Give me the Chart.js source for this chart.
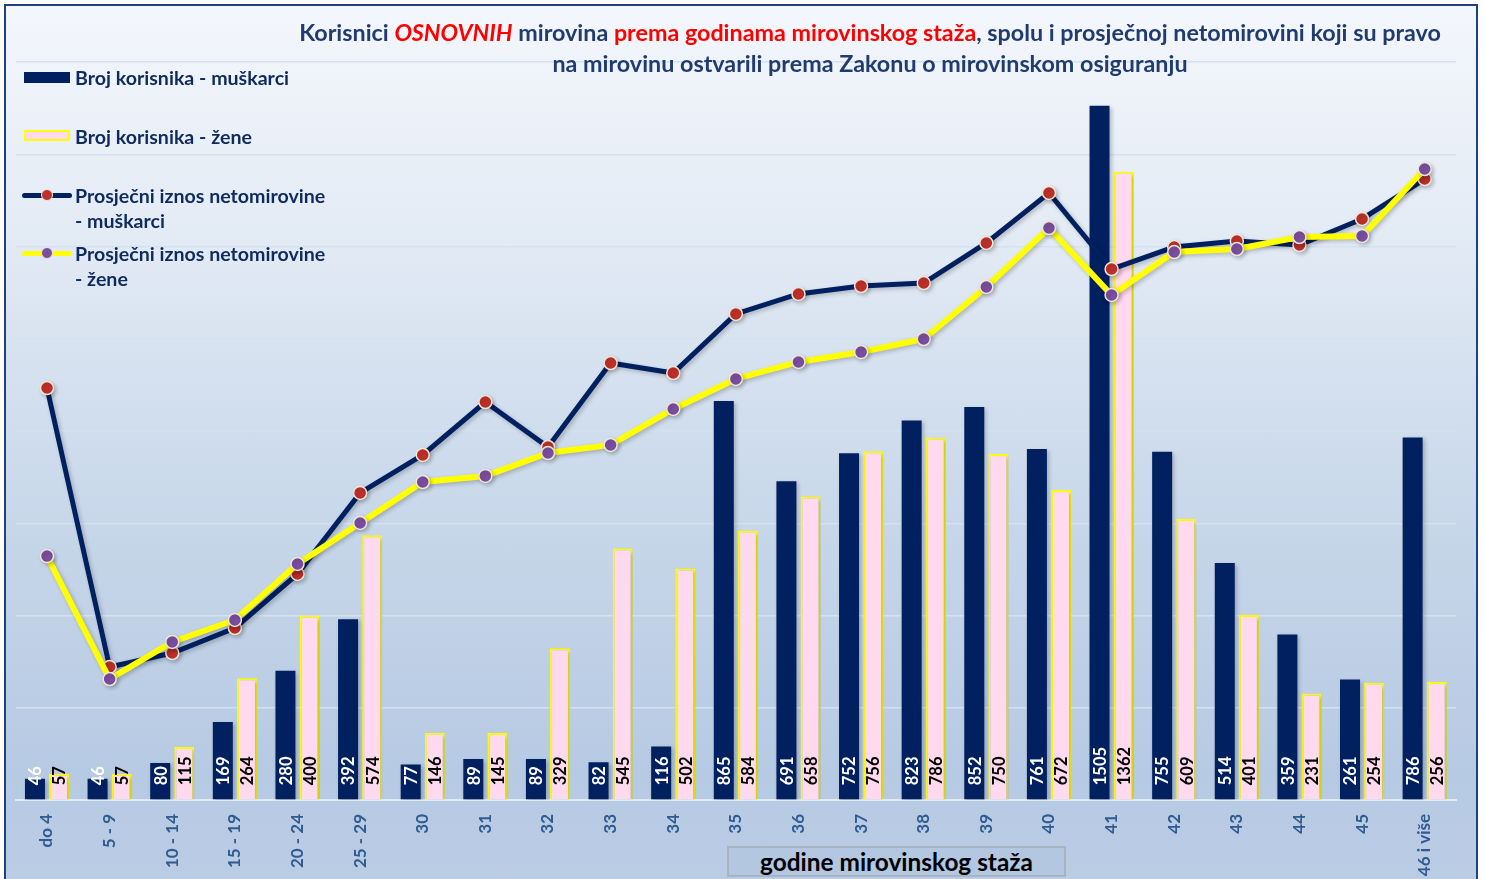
<!DOCTYPE html>
<html lang="hr">
<head>
<meta charset="utf-8">
<title>Korisnici osnovnih mirovina prema godinama mirovinskog staža</title>
<script src="https://cdn.jsdelivr.net/npm/chart.js@4/dist/chart.umd.min.js"></script>
<style>
  html, body { margin: 0; padding: 0; background: #fff; }
  body { width: 1485px; height: 879px; overflow: hidden; position: relative; font-family: Lato, 'Open Sans', sans-serif; }
  #frame {
    position: absolute; left: 4px; top: 4px; width: 1470px; height: 900px;
    border: 2px solid #1f3f86;
    background: linear-gradient(to bottom, #f4f7fc 0%, #e3ebf5 25%, #c9d8ea 55%, #b6cae3 85%, #bccde5 100%);
  }
  #chart { position: absolute; left: 0; top: 0; }
  #title {
    position: absolute; left: 270px; top: 17px; width: 1200px;
    text-align: center; font-weight: bold; font-size: 23.3px; line-height: 31px; color: #1f3b70;
  }
  #title .red { color: #ff0000; }
  #title .it { font-style: italic; }
  .lg-text { position: absolute; left: 75px; font-weight: bold; font-size: 19.6px; line-height: 25px; color: #0e2a5e; white-space: nowrap; }
  .lg-box { position: absolute; left: 24px; width: 46px; height: 11px; box-sizing: border-box; }
  .lg-line { position: absolute; left: 22px; width: 50px; height: 5px; border-radius: 3px; }
  .lg-dot { position: absolute; left: 41px; width: 12px; height: 12px; border-radius: 50%; box-sizing: border-box; border: 1.5px solid #efe6d8; }
  #xtitle {
    position: absolute; left: 727px; top: 846px; width: 339px; height: 31px; box-sizing: border-box;
    background: #b3c7e0; border: 2px solid #a8b4c4;
    text-align: center; font-weight: bold; font-size: 24.4px; line-height: 27px; color: #000;
  }
</style>
</head>
<body>
<div id="frame"></div>
<canvas id="chart" width="1485" height="879"></canvas>

<div id="title">Korisnici <span class="red it">OSNOVNIH</span> mirovina <span class="red">prema godinama mirovinskog staža</span>, spolu i prosječnoj netomirovini koji su pravo<br>na mirovinu ostvarili prema Zakonu o mirovinskom osiguranju</div>

<div class="lg-box" style="top:72px; background:#002060;"></div>
<div class="lg-text" style="top:65px;">Broj korisnika - muškarci</div>

<div class="lg-box" style="top:130px; background:#ffd9ee; border:2px solid #ffff00;"></div>
<div class="lg-text" style="top:124px;">Broj korisnika - žene</div>

<div class="lg-line" style="top:193px; background:#002060;"></div>
<div class="lg-dot" style="top:189px; background:#c0302a;"></div>
<div class="lg-text" style="top:183px;">Prosječni iznos netomirovine<br>- muškarci</div>

<div class="lg-line" style="top:251px; background:#ffff00;"></div>
<div class="lg-dot" style="top:247px; background:#7b4fa0;"></div>
<div class="lg-text" style="top:241px;">Prosječni iznos netomirovine<br>- žene</div>

<div id="xtitle">godine mirovinskog staža</div>

<script>
// years of pensionable service
const categories = ['do 4', '5 - 9', '10 - 14', '15 - 19', '20 - 24', '25 - 29', '30', '31', '32', '33',
  '34', '35', '36', '37', '38', '39', '40', '41', '42', '43', '44', '45', '46 i više'];

// number of pension users
const usersMen = [46, 46, 80, 169, 280, 392, 77, 89, 89, 82, 116, 865, 691, 752, 823, 852, 761, 1505, 755, 514, 359, 261, 786];
const usersWomen = [57, 57, 115, 264, 400, 574, 146, 145, 329, 545, 502, 584, 658, 756, 786, 750, 672, 1362, 609, 401, 231, 254, 256];

// average net pension
const avgPensionMen = [3126, 1009, 1115, 1305, 1715, 2330, 2618, 3020, 2679, 3316, 3240, 3688, 3840, 3900, 3923, 4227, 4606, 4029, 4196, 4242, 4211, 4409, 4712];
const avgPensionWomen = [1851, 918, 1199, 1366, 1791, 2102, 2413, 2459, 2633, 2694, 2967, 3195, 3324, 3399, 3498, 3893, 4340, 3832, 4158, 4181, 4272, 4280, 4788];

const FONT = "Lato, 'Open Sans', sans-serif";

// soft drop shadow under bars and lines
const shadows = {
  id: 'shadows',
  beforeDatasetDraw(chart) {
    const ctx = chart.ctx;
    ctx.save();
    ctx.shadowColor = 'rgba(0, 0, 0, 0.22)';
    ctx.shadowBlur = 4;
    ctx.shadowOffsetX = 2;
    ctx.shadowOffsetY = 2;
  },
  afterDatasetDraw(chart) {
    chart.ctx.restore();
  }
};

// vertical value labels at the foot of each bar
const barLabels = {
  id: 'barLabels',
  afterDatasetsDraw(chart) {
    const ctx = chart.ctx;
    [0, 1].forEach(di => {
      const meta = chart.getDatasetMeta(di);
      const values = chart.data.datasets[di].data;
      ctx.save();
      ctx.font = 'bold 16.5px ' + FONT;
      ctx.fillStyle = di === 0 ? '#ffffff' : '#000000';
      ctx.textAlign = 'left';
      ctx.textBaseline = 'middle';
      meta.data.forEach((bar, i) => {
        ctx.save();
        ctx.translate(bar.x + 1, bar.base - 14);
        ctx.rotate(-Math.PI / 2);
        ctx.fillText(String(values[i]), 0, 0);
        ctx.restore();
      });
      ctx.restore();
    });
  }
};

const ctx = document.getElementById('chart').getContext('2d');

new Chart(ctx, {
  type: 'bar',
  data: {
    labels: categories,
    datasets: [
      {
        label: 'Broj korisnika - muškarci',
        data: usersMen,
        backgroundColor: '#002060',
        borderWidth: 0,
        yAxisID: 'y',
        order: 3,
        barPercentage: 0.83,
        categoryPercentage: 0.77,
      },
      {
        label: 'Broj korisnika - žene',
        data: usersWomen,
        backgroundColor: '#ffd9ee',
        borderColor: '#ffff00',
        borderWidth: 2,
        yAxisID: 'y',
        order: 3,
        barPercentage: 0.83,
        categoryPercentage: 0.77,
      },
      {
        type: 'line',
        label: 'Prosječni iznos netomirovine - muškarci',
        data: avgPensionMen,
        borderColor: '#002060',
        borderWidth: 5,
        pointRadius: 6.5,
        pointBackgroundColor: '#c0302a',
        pointBorderColor: '#efe6d8',
        pointBorderWidth: 1.5,
        tension: 0,
        yAxisID: 'y2',
        order: 2,
      },
      {
        type: 'line',
        label: 'Prosječni iznos netomirovine - žene',
        data: avgPensionWomen,
        borderColor: '#ffff00',
        borderWidth: 6,
        pointRadius: 6.5,
        pointBackgroundColor: '#7b4fa0',
        pointBorderColor: '#efe6d8',
        pointBorderWidth: 1.5,
        tension: 0,
        yAxisID: 'y2',
        order: 1,
      }
    ]
  },
  options: {
    responsive: false,
    animation: false,
    layout: { padding: { left: 15.7, right: 29, top: 62, bottom: 0 } },
    plugins: {
      legend: { display: false },
      tooltip: { enabled: false },
    },
    scales: {
      x: {
        grid: { display: false, drawTicks: false },
        border: { display: true, color: '#e2eaf5', width: 2 },
        ticks: {
          autoSkip: false,
          minRotation: 90,
          maxRotation: 90,
          padding: 14,
          color: '#2f5b8f',
          font: { family: FONT, size: 17, weight: 'bold' },
        },
        afterFit: scale => { scale.height = 79; },
      },
      y: {
        min: 0,
        max: 1600,
        ticks: { display: false, stepSize: 200 },
        grid: { color: '#d3e1f1', lineWidth: 1.5, drawTicks: false },
        border: { display: false },
        afterFit: scale => { scale.width = 0; },
      },
      y2: {
        display: false,
        min: 0,
        max: 5600,
      }
    }
  },
  plugins: [shadows, barLabels]
});
</script>
</body>
</html>
